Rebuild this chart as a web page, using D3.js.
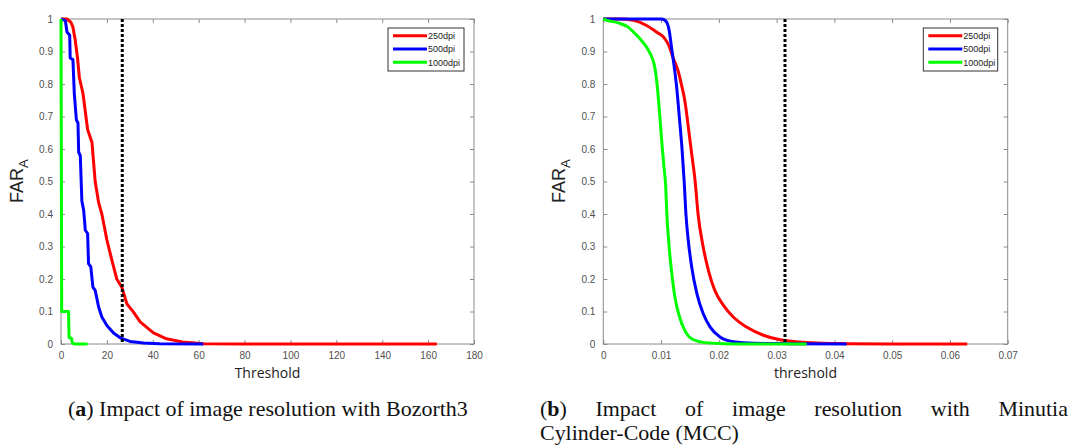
<!DOCTYPE html>
<html><head><meta charset="utf-8">
<script src="https://cdnjs.cloudflare.com/ajax/libs/d3/7.8.5/d3.min.js"></script>
<style>body{margin:0;background:#fff}svg{display:block}</style>
</head><body>
<svg id="c" width="1075" height="448"></svg>
<script>
// ---- data ----
const seriesNames = ["250dpi", "500dpi", "1000dpi"];
const seriesColors = ["#ff0000", "#0000ff", "#00ff00"];

// Panel (a): Bozorth3
const aRed = [[0,1],[2.6,1],[4.3,0.99],[5.2,0.975],[6.2,0.935],[7.2,0.88],[8,0.82],[9.6,0.77],[11.6,0.66],[13.5,0.62],[14.9,0.5],[16.4,0.435],[17.8,0.4],[20,0.32],[22.2,0.257],[24.3,0.2],[26.5,0.175],[28.7,0.124],[31.6,0.098],[34.5,0.068],[40.3,0.034],[46,0.016],[53,0.006],[62,0.001],[80,0],[163.8,0]];
const aBlue = [[0,1],[1.9,0.995],[2.6,0.96],[3.8,0.95],[4,0.88],[5.2,0.875],[5.8,0.77],[6.7,0.69],[7.4,0.68],[7.7,0.59],[8.4,0.58],[9.1,0.44],[9.9,0.41],[10.6,0.35],[11.6,0.34],[12,0.247],[13,0.237],[13.9,0.175],[14.9,0.165],[16.4,0.114],[17.8,0.083],[20,0.057],[22.9,0.034],[25.8,0.019],[30.1,0.008],[36,0.003],[43,0.001],[62,0]];
const aGreen = [[0,1],[0.3,0.1],[3.3,0.1],[3.5,0.02],[4.5,0.018],[5,0.003],[6,0],[11.6,0]];
const aThreshold = 26.7;
const aXTicks = [0,20,40,60,80,100,120,140,160,180];

// Panel (b): MCC
const bRed = [[0,1],[0.0029,1],[0.0052,0.996],[0.0075,0.98],[0.0092,0.96],[0.0104,0.945],[0.0113,0.92],[0.0121,0.88],[0.013,0.837],[0.0135,0.8],[0.0141,0.75],[0.0147,0.67],[0.0153,0.585],[0.0159,0.5],[0.0164,0.4],[0.0173,0.298],[0.0182,0.226],[0.0193,0.165],[0.0208,0.119],[0.0225,0.083],[0.0248,0.052],[0.0277,0.027],[0.0306,0.013],[0.034,0.006],[0.038,0.002],[0.0421,0.001],[0.05,0],[0.063,0]];
const bBlue = [[0,1],[0.0101,1],[0.0108,0.994],[0.0114,0.965],[0.0118,0.914],[0.0122,0.863],[0.0127,0.79],[0.0132,0.69],[0.0136,0.607],[0.014,0.5],[0.0143,0.4],[0.0147,0.32],[0.0153,0.237],[0.0162,0.155],[0.0173,0.093],[0.0185,0.052],[0.0202,0.0215],[0.0225,0.007],[0.026,0.002],[0.0323,0.001],[0.0421,0]];
const bGreen = [[0,1],[0.0006,0.996],[0.0026,0.988],[0.0043,0.975],[0.0055,0.955],[0.0066,0.934],[0.0078,0.904],[0.0089,0.852],[0.0093,0.8],[0.0097,0.72],[0.0101,0.627],[0.0105,0.545],[0.0108,0.485],[0.011,0.4],[0.0114,0.298],[0.0118,0.226],[0.0124,0.144],[0.0132,0.083],[0.0141,0.042],[0.0153,0.016],[0.0173,0.005],[0.0208,0.001],[0.025,0],[0.0352,0]];
const bThreshold = 0.03145;
const bXTicks = [0,0.01,0.02,0.03,0.04,0.05,0.06,0.07];

const yTicks = [0,0.1,0.2,0.3,0.4,0.5,0.6,0.7,0.8,0.9,1];

const captionA = ["(", "a", ") Impact of image resolution with Bozorth3"];
const captionB1 = ["(b)","Impact","of","image","resolution","with","Minutia"];
const captionB2 = "Cylinder-Code (MCC)";

const svg = d3.select("#c");
const sans = "'Liberation Sans', Arial, sans-serif";

function panel(opt) {
  const x = d3.scaleLinear().domain(opt.xDomain).range([opt.x0, opt.x1]);
  const y = d3.scaleLinear().domain([0,1]).range([opt.y1, opt.y0]);
  const g = svg.append("g");
  const axisCol = "#8a8a8a", labCol = "#505050";
  const fmtX = opt.fmtX, fmtY = d => d3.format("")(d);
  const bx = g.append("g").attr("transform", `translate(0,${opt.y1})`)
    .call(d3.axisBottom(x).tickValues(opt.xTicks).tickSizeInner(-4).tickSizeOuter(0).tickPadding(8).tickFormat(fmtX));
  const tx = g.append("g").attr("transform", `translate(0,${opt.y0})`)
    .call(d3.axisTop(x).tickValues(opt.xTicks).tickSizeInner(-4).tickSizeOuter(0).tickFormat(""));
  const ly = g.append("g").attr("transform", `translate(${opt.x0},0)`)
    .call(d3.axisLeft(y).tickValues(yTicks).tickSizeInner(-4).tickSizeOuter(0).tickPadding(8).tickFormat(fmtY));
  const ry = g.append("g").attr("transform", `translate(${opt.x1},0)`)
    .call(d3.axisRight(y).tickValues(yTicks).tickSizeInner(-4).tickSizeOuter(0).tickFormat(""));
  [bx,tx,ly,ry].forEach(a => {
    a.select(".domain").remove();
    a.selectAll(".tick line").attr("stroke", axisCol);
    a.selectAll(".tick text").attr("fill", labCol).style("font-family", sans).style("font-size", "10px");
  });
  g.append("rect").attr("x", opt.x0).attr("y", opt.y0).attr("width", opt.x1-opt.x0).attr("height", opt.y1-opt.y0)
    .attr("fill","none").attr("stroke", axisCol).attr("stroke-width",1);

  const line = d3.line().x(d => x(d[0])).y(d => y(d[1])).curve(opt.curve);
  opt.series.forEach((s,i) => {
    g.append("path").datum(s).attr("d", line).attr("fill","none")
      .attr("stroke", seriesColors[i]).attr("stroke-width", 3).attr("stroke-linejoin","round");
  });
  g.append("line").attr("x1", x(opt.threshold)).attr("x2", x(opt.threshold))
    .attr("y1", y(1)).attr("y2", y(0)).attr("stroke","#000").attr("stroke-width",3)
    .attr("stroke-dasharray","3,2");

  g.append("text").attr("x", (opt.x0+opt.x1)/2).attr("y", opt.y1+34).attr("text-anchor","middle")
    .style("font-family","'Open Sans', sans-serif").style("font-size","14px").attr("fill","#222").text(opt.xLabel);
  const yl = g.append("text").attr("transform", `translate(${opt.x0-38},${opt.yLabelY}) rotate(-90)`)
    .style("font-family", sans).style("font-size","18px").attr("fill","#222");
  yl.append("tspan").text("FAR");
  yl.append("tspan").attr("dy", 5).style("font-size","13px").text("A");

  const lg = g.append("g");
  lg.append("rect").attr("x", opt.legX).attr("y", 28).attr("width", opt.legW).attr("height", 43)
    .attr("fill","#fff").attr("stroke","#333").attr("stroke-width",1);
  seriesNames.forEach((n,i) => {
    const yy = 35.7 + i*13.3;
    lg.append("line").attr("x1", opt.legX+5).attr("x2", opt.legX+39).attr("y1", yy).attr("y2", yy)
      .attr("stroke", seriesColors[i]).attr("stroke-width",3);
    lg.append("text").attr("x", opt.legX+40).attr("y", yy+3.3).style("font-family", sans).style("font-size","9px")
      .attr("fill","#222").text(n);
  });
}

panel({xDomain:[0,180], x0:61, x1:474, y0:19, y1:344, xTicks:aXTicks, fmtX:d3.format(""),
  series:[aRed,aBlue,aGreen], threshold:aThreshold, xLabel:"Threshold", curve:d3.curveLinear,
  legX:388, legW:76, yLabelY:203});
panel({xDomain:[0,0.07], x0:603.3, x1:1007.7, y0:19, y1:344, xTicks:bXTicks, fmtX:d => d===0?"0":d3.format(".2f")(d),
  series:[bRed,bBlue,bGreen], threshold:bThreshold, xLabel:"threshold", curve:d3.curveMonotoneX,
  legX:923.3, legW:74.4, yLabelY:203});

// ---- captions ----
const serif = "'Liberation Serif', 'DejaVu Serif', serif";
const capSize = 21;
function capText(parent, parts, boldIdx) {
  const t = parent.append("text").style("font-family",serif).style("font-size",capSize+"px").attr("fill","#111");
  parts.forEach((p,i) => { const s = t.append("tspan").text(p); if (i === boldIdx) s.style("font-weight","bold"); });
  return t;
}
const gA = svg.append("g");
const tA = capText(gA, captionA, 1);
const sx = 400 / tA.node().getComputedTextLength();
gA.attr("transform", `translate(68,415.5) scale(${sx},1)`);

const bx0 = 540, bx1 = 1068;
const wordGroups = captionB1.map(w => {
  const gg = svg.append("g");
  const t = w === "(b)" ? capText(gg, ["(","b",")"], 1) : capText(gg, [w], -1);
  return {g: gg, w: t.node().getComputedTextLength() * sx};
});
const gap = (bx1 - bx0 - d3.sum(wordGroups, d => d.w)) / (captionB1.length - 1);
let cx = bx0;
wordGroups.forEach(d => { d.g.attr("transform", `translate(${cx},415.5) scale(${sx},1)`); cx += d.w + gap; });
const gB2 = svg.append("g").attr("transform", `translate(${bx0},440) scale(${sx},1)`);
capText(gB2, [captionB2], -1);
</script>
</body></html>
